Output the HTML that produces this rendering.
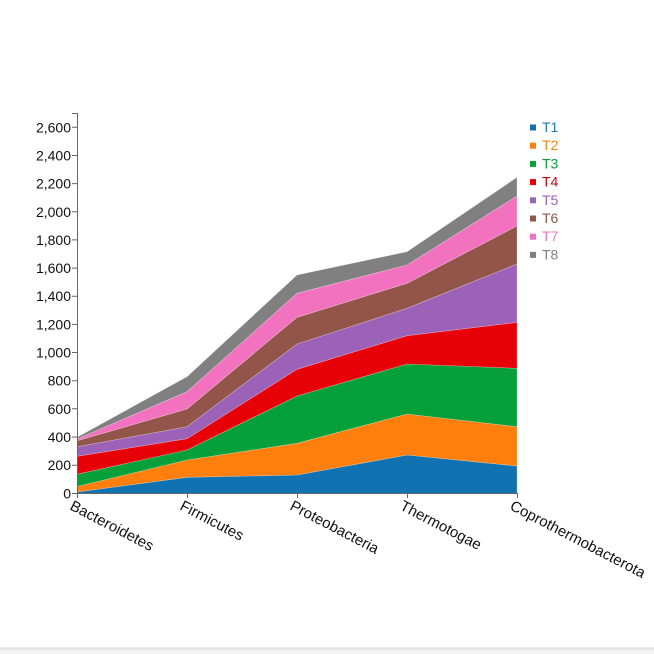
<!DOCTYPE html>
<html><head><meta charset="utf-8"><style>
html,body{margin:0;padding:0;background:#fff;}
svg{display:block;}
text{font-family:"Liberation Sans",sans-serif;}
</style></head><body>
<svg width="654" height="654" viewBox="0 0 654 654" xmlns="http://www.w3.org/2000/svg">
<rect width="654" height="654" fill="#fff"/>
<!-- areas -->
<g stroke-width="0.6" stroke-opacity="0.35" stroke="#fff">
<polygon fill="#1072b0" points="77,492 187,477.3 297,475 407,455 517,466 517,493.3 407,493.3 297,493.3 187,493.3 77,493.3"/>
<polygon fill="#ff7f0e" points="77,486.5 187,460 297,443.3 407,414 517,426.7 517,466 407,455 297,475 187,477.3 77,492"/>
<polygon fill="#05a03a" points="77,474.3 187,450 297,396 407,364 517,368.3 517,426.7 407,414 297,443.3 187,460 77,486.5"/>
<polygon fill="#e80008" points="77,456.3 187,438.7 297,369.3 407,335.7 517,322.3 517,368.3 407,364 297,396 187,450 77,474.3"/>
<polygon fill="#9c62b8" points="77,446.8 187,426.7 297,344 407,308.3 517,264 517,322.3 407,335.7 297,369.3 187,438.7 77,456.3"/>
<polygon fill="#93544a" points="77,440.8 187,409 297,317.3 407,283.3 517,226 517,264 407,308.3 297,344 187,426.7 77,446.8"/>
<polygon fill="#f372bf" points="77,439 187,391.7 297,293.3 407,265 517,196 517,226 407,283.3 297,317.3 187,409 77,440.8"/>
<polygon fill="#808080" points="77,437.3 187,376.7 297,275 407,251.7 517,177.3 517,196 407,265 297,293.3 187,391.7 77,439"/>
</g>
<!-- y axis -->
<g stroke="#666" stroke-width="1" fill="none">
<path d="M72,113.5H77.5V493.5H72"/>
<path d="M72,465.2H77 M72,437H77 M72,408.8H77 M72,380.7H77 M72,352.5H77 M72,324.4H77 M72,296.2H77 M72,268.1H77 M72,239.9H77 M72,211.8H77 M72,183.6H77 M72,155.5H77 M72,127.3H77"/>
</g>
<g font-size="14" fill="#111" text-anchor="end">
<text x="71" y="498.3">0</text>
<text x="71" y="470.2">200</text>
<text x="71" y="442">400</text>
<text x="71" y="413.8">600</text>
<text x="71" y="385.7">800</text>
<text x="71" y="357.5">1,000</text>
<text x="71" y="329.4">1,200</text>
<text x="71" y="301.2">1,400</text>
<text x="71" y="273.1">1,600</text>
<text x="71" y="244.9">1,800</text>
<text x="71" y="216.8">2,000</text>
<text x="71" y="188.6">2,200</text>
<text x="71" y="160.5">2,400</text>
<text x="71" y="132.3">2,600</text>
</g>
<!-- x axis -->
<g stroke="#666" stroke-width="1" fill="none">
<path d="M77.5,498V493.5H517.5V498"/>
<path d="M187.5,493.5V498 M297.5,493.5V498 M407.5,493.5V498"/>
</g>
<g font-size="15" fill="#111">
<text transform="translate(69,509) rotate(27.5)">Bacteroidetes</text>
<text transform="translate(179,509) rotate(27.5)">Firmicutes</text>
<text transform="translate(289,509) rotate(27.5)">Proteobacteria</text>
<text transform="translate(399,509) rotate(27.5)">Thermotogae</text>
<text transform="translate(509,509) rotate(27.5)">Coprothermobacterota</text>
</g>
<!-- legend -->
<g font-size="14">
<rect x="530" y="124.5" width="6" height="6" fill="#1072b0"/><text x="542" y="132" fill="#1f78b4">T1</text>
<rect x="530" y="142.7" width="6" height="6" fill="#ff7f0e"/><text x="542" y="150.2" fill="#ff7f0e">T2</text>
<rect x="530" y="160.9" width="6" height="6" fill="#05a03a"/><text x="542" y="168.4" fill="#05a03a">T3</text>
<rect x="530" y="179.1" width="6" height="6" fill="#e80008"/><text x="542" y="186.6" fill="#d00008">T4</text>
<rect x="530" y="197.3" width="6" height="6" fill="#9c62b8"/><text x="542" y="204.8" fill="#9c62b8">T5</text>
<rect x="530" y="215.5" width="6" height="6" fill="#93544a"/><text x="542" y="223" fill="#8c564b">T6</text>
<rect x="530" y="233.7" width="6" height="6" fill="#f372bf"/><text x="542" y="241.2" fill="#e377c2">T7</text>
<rect x="530" y="251.9" width="6" height="6" fill="#808080"/><text x="542" y="259.4" fill="#7f7f7f">T8</text>
</g>
<!-- bottom bar -->
<rect x="0" y="647.5" width="654" height="1.2" fill="#d8d8d8"/>
<rect x="0" y="648.7" width="654" height="3" fill="#ececec"/>
<rect x="0" y="651.7" width="654" height="2.3" fill="#f3f3f3"/>
</svg>
</body></html>
